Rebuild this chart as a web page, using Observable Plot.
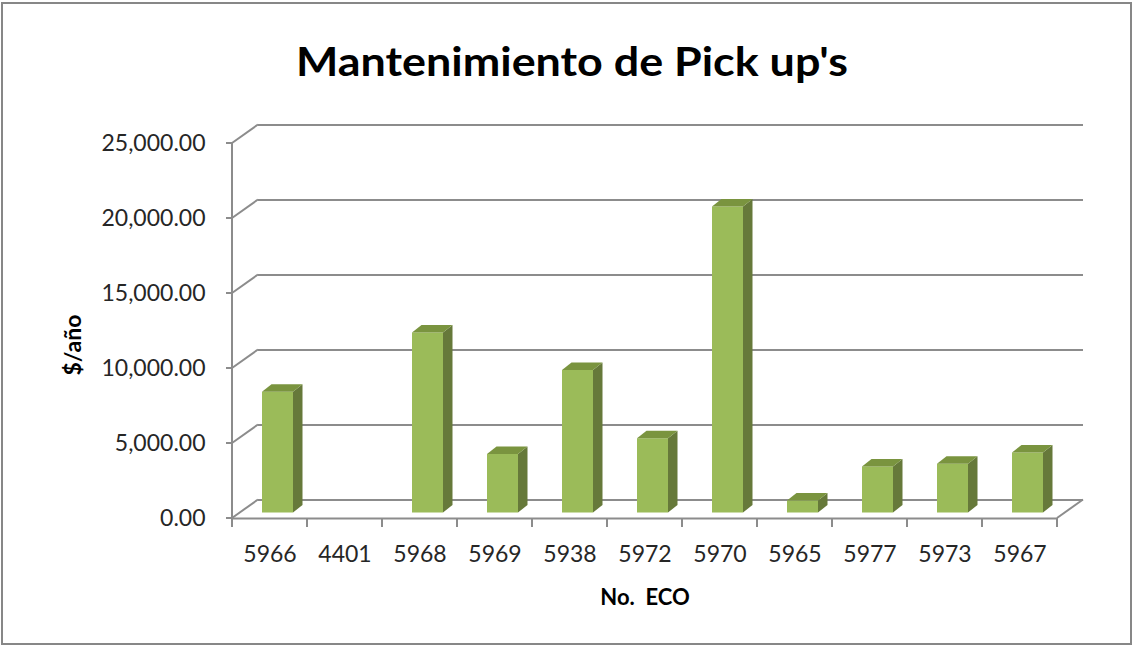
<!DOCTYPE html>
<html>
<head>
<meta charset="utf-8">
<script src="https://cdn.jsdelivr.net/npm/d3@7"></script>
<script src="https://cdn.jsdelivr.net/npm/@observablehq/plot@0.6"></script>
<style>
  html, body { margin: 0; padding: 0; background: #fff; }
  svg { display: block; }
</style>
</head>
<body>
<div id="chart"></div>
<script>
// ---- data ----
const ecoNumbers = ["5966", "4401", "5968", "5969", "5938", "5972", "5970", "5965", "5977", "5973", "5967"];
const costPerYear = [8050, 0, 12000, 3900, 9500, 4950, 20400, 800, 3070, 3250, 4000];
const yTickValues = [0, 5000, 10000, 15000, 20000, 25000];
const chartTitle = "Mantenimiento de Pick up's";
const xTitle = "No.  ECO";
const yTitle = "$/año";

const data = ecoNumbers.map((eco, i) => ({eco, cost: costPerYear[i]}));

// ---- styling ----
const W = 1134, H = 647;
const depth = {dx: 26, dy: -18.5};      // wall depth offset
const barDepth = {dx: 9.5, dy: -7.5};   // bar depth offset
const barShift = -5.5;                   // bars sit mid-depth
const inset = {left: 30, right: 14};
const gridColor = "#8c8c8c";
const colors = {front: "#9BBB59", side: "#66793A", top: "#7A943F"};
const FONT = "Lato, 'Open Sans', sans-serif";

function walls(index, scales, values, dim) {
  const {x, y} = scales;
  const g = d3.create("svg:g").attr("stroke", gridColor).attr("stroke-width", 2).attr("fill", "none");
  const x0 = dim.marginLeft, x1 = dim.width - dim.marginRight;
  const y0 = y(0);
  for (const t of yTickValues) {
    g.append("line").attr("x1", x0).attr("y1", y(t)).attr("x2", x0 + depth.dx).attr("y2", y(t) + depth.dy);
  }
  g.append("line").attr("x1", x1).attr("y1", y0).attr("x2", x1 + depth.dx).attr("y2", y0 + depth.dy);
  g.append("line").attr("x1", x0).attr("y1", y(yTickValues[yTickValues.length - 1])).attr("x2", x0).attr("y2", y0);
  for (const t of yTickValues) {
    g.append("line").attr("x1", x0 - 6).attr("y1", y(t)).attr("x2", x0).attr("y2", y(t));
  }
  const bounds = ecoNumbers.map(c => x(c)).concat([x(ecoNumbers[ecoNumbers.length - 1]) + x.bandwidth()]);
  for (const b of bounds) {
    g.append("line").attr("x1", b).attr("y1", y0).attr("x2", b).attr("y2", y0 + 9);
  }
  return g.node();
}

function barFaces(index, scales) {
  const {x, y} = scales;
  const g = d3.create("svg:g");
  for (const d of data) {
    if (!d.cost) continue;
    const xl = x(d.eco) + inset.left;
    const xr = x(d.eco) + x.bandwidth() - inset.right;
    const yt = y(d.cost) + barShift;
    const yb = y(0) + barShift;
    g.append("polygon")
      .attr("points", [[xr, yt], [xr + barDepth.dx, yt + barDepth.dy], [xr + barDepth.dx, yb + barDepth.dy], [xr, yb]].map(p => p.join(",")).join(" "))
      .attr("fill", colors.side);
    g.append("polygon")
      .attr("points", [[xl, yt], [xl + barDepth.dx, yt + barDepth.dy], [xr + barDepth.dx, yt + barDepth.dy], [xr, yt]].map(p => p.join(",")).join(" "))
      .attr("fill", colors.top);
  }
  return g.node();
}

const svg = Plot.plot({
  width: W,
  height: H,
  marginLeft: 232,
  marginRight: 77,
  marginTop: 143,
  marginBottom: 129,
  style: {fontFamily: FONT, fontSize: "23px", color: "#262626", background: "white"},
  x: {domain: ecoNumbers, padding: 0, label: null, tickSize: 0, tickPadding: 27},
  y: {domain: [0, 25000], ticks: yTickValues, tickFormat: d3.format(",.2f"), label: null, tickSize: 0, tickPadding: 27},
  marks: [
    Plot.ruleY(yTickValues, {dx: depth.dx, dy: depth.dy, stroke: gridColor, strokeWidth: 2}),
    Plot.ruleY([0], {stroke: gridColor, strokeWidth: 2}),
    walls,
    Plot.barY(data, {x: "eco", y: "cost", insetLeft: inset.left, insetRight: inset.right, dy: barShift, fill: colors.front}),
    barFaces
  ]
});

const s = d3.select(svg);
s.append("rect").attr("x", 2).attr("y", 3).attr("width", W - 5).attr("height", H - 6)
  .attr("fill", "none").attr("stroke", "#878787").attr("stroke-width", 2);
s.append("text").text(chartTitle)
  .attr("x", 572).attr("y", 76).attr("text-anchor", "middle")
  .attr("font-family", FONT).attr("font-weight", "bold").attr("font-size", 41)
  .attr("fill", "#000").attr("textLength", 552).attr("lengthAdjust", "spacingAndGlyphs");
s.append("text").text(xTitle)
  .attr("x", 645).attr("y", 605).attr("text-anchor", "middle")
  .attr("font-family", FONT).attr("font-weight", "bold").attr("font-size", 22).attr("fill", "#000")
  .style("white-space", "pre").attr("xml:space", "preserve");
s.append("text").text(yTitle)
  .attr("transform", "translate(81,345) rotate(-90)").attr("text-anchor", "middle")
  .attr("font-family", FONT).attr("font-weight", "bold").attr("font-size", 23).attr("fill", "#000");

document.getElementById("chart").appendChild(svg);
</script>
</body>
</html>
